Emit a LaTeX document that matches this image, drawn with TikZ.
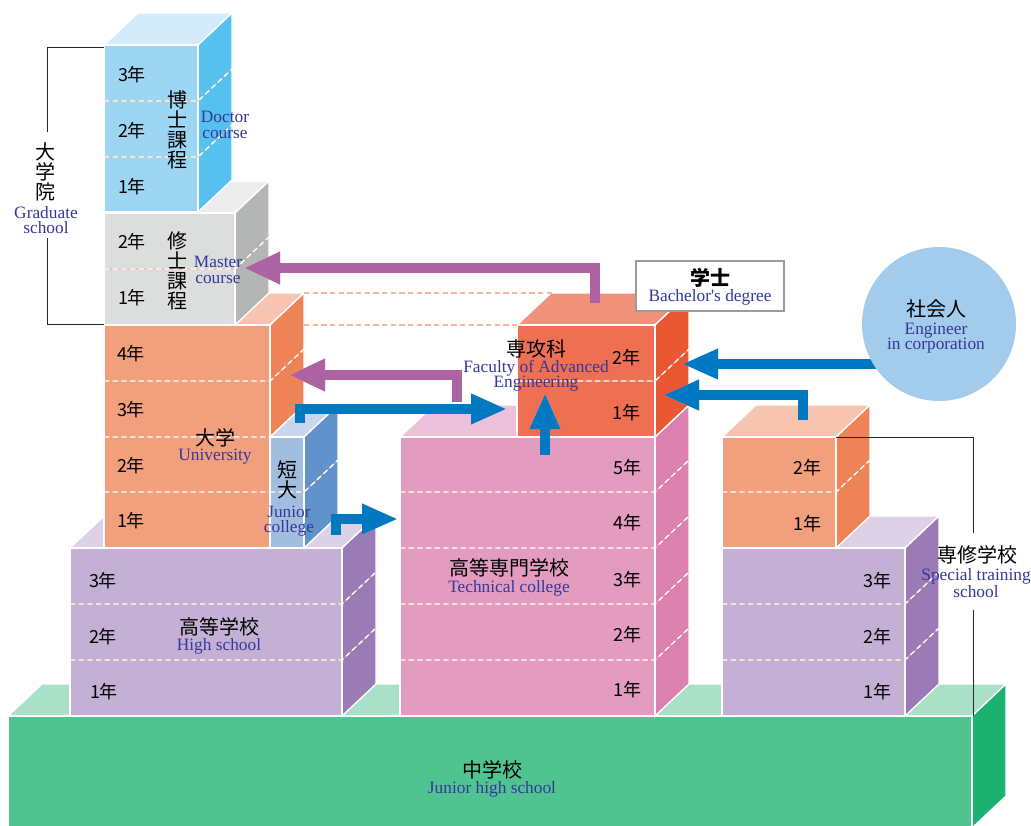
\documentclass[tikz,border=0pt]{standalone}
\usepackage{fontspec}
\newfontfamily\jp{Noto Sans CJK JP}
\newfontfamily\en{Liberation Serif}
\usetikzlibrary{arrows.meta}
\definecolor{docF}{HTML}{9DD6F3}\definecolor{docS}{HTML}{55C1EE}\definecolor{docT}{HTML}{D3ECF9}
\definecolor{masF}{HTML}{DCDDDD}\definecolor{masS}{HTML}{B4B5B5}\definecolor{masT}{HTML}{EDEDED}
\definecolor{uniF}{HTML}{F29F7D}\definecolor{uniS}{HTML}{EF8358}\definecolor{uniT}{HTML}{F7C5AF}
\definecolor{jcF}{HTML}{A1BEE1}\definecolor{jcS}{HTML}{6192CC}\definecolor{jcT}{HTML}{C9D6EC}
\definecolor{hsF}{HTML}{C4B0D4}\definecolor{hsS}{HTML}{9B7BB6}\definecolor{hsT}{HTML}{DDD1E8}
\definecolor{grF}{HTML}{4FC490}\definecolor{grS}{HTML}{1BB16F}\definecolor{grT}{HTML}{A8E1C8}
\definecolor{tcF}{HTML}{E39BC0}\definecolor{tcS}{HTML}{DC80AE}\definecolor{tcT}{HTML}{EEC1DA}
\definecolor{faF}{HTML}{EE6F51}\definecolor{faS}{HTML}{E95733}\definecolor{faT}{HTML}{F0927A}
\definecolor{circ}{HTML}{A3CBEB}
\definecolor{pArrow}{HTML}{AD62A2}\definecolor{pShadow}{HTML}{DDB3D6}
\definecolor{bArrow}{HTML}{0078C2}\definecolor{bShadow}{HTML}{82C0E6}
\definecolor{entext}{HTML}{35379A}
\definecolor{bgray}{HTML}{9B9B9B}
\definecolor{guide}{HTML}{F6B9A5}
\definecolor{dashunder}{HTML}{EFA58C}
\def\dx{34}\def\dy{32}
\newcommand\prism[7]{%
  \filldraw[facestyle, fill=#7] (#1,#2) -- ({#1+\dx},{#2-\dy}) -- ({#3+\dx},{#2-\dy}) -- (#3,#2) -- cycle;
  \filldraw[facestyle, fill=#6] (#3,#2) -- ({#3+\dx},{#2-\dy}) -- ({#3+\dx},{#4-\dy}) -- (#3,#4) -- cycle;
  \filldraw[facestyle, fill=#5] (#1,#2) rectangle (#3,#4);
}
\newcommand\yearline[3]{%
  \draw[dashunder, line width=0.45pt] (#1,#3) -- (#2,#3) -- ({#2+\dx},{#3-\dy});
  \draw[white, line width=1pt, dash pattern=on 4pt off 2.5pt] (#1,#3) -- (#2,#3) -- ({#2+\dx},{#3-\dy});
}
\begin{document}
\begin{tikzpicture}[x=0.75pt,y=-0.75pt,
  facestyle/.style={draw=white, line width=1pt, line join=miter},
  yr/.style={font=\jp\fontsize{13.5}{14}\selectfont, inner sep=0pt},
  jpl/.style={font=\jp\fontsize{15}{15}\selectfont, inner sep=0pt, align=center},
  enl/.style={font=\en\fontsize{13}{11.5}\selectfont, text=entext, inner sep=0pt, align=center},
  bracket/.style={draw=black!85, line width=0.7pt},
  guideline/.style={draw=guide, line width=0.8pt, dash pattern=on 4pt off 2.5pt},
  parrow/.style={draw=pArrow, line width=8pt, line join=miter, -{Triangle[length=27pt,width=22.5pt]}},
  pshadow/.style={draw=pShadow, line width=8pt, line join=miter, -{Triangle[length=27pt,width=22.5pt]}},
  barrow/.style={draw=bArrow, line width=7.5pt, line join=miter, -{Triangle[length=27pt,width=21pt]}},
  bshadow/.style={draw=bShadow, line width=7.5pt, line join=miter, -{Triangle[length=27pt,width=21pt]}},
]
\useasboundingbox[fill=white] (0,0) rectangle (1031,825);

% junior high school (green)
\prism{8}{716}{972}{828}{grF}{grS}{grT}
% high school
\prism{70}{548}{342}{716}{hsF}{hsS}{hsT}
\yearline{70}{342}{604}\yearline{70}{342}{660}
% technical college
\prism{400}{437}{655}{716}{tcF}{tcS}{tcT}
\yearline{400}{655}{492}\yearline{400}{655}{548}\yearline{400}{655}{604}\yearline{400}{655}{660}
% special training school (purple part)
\prism{722}{548}{905}{716}{hsF}{hsS}{hsT}
\yearline{722}{905}{604}\yearline{722}{905}{660}
% university
\prism{104}{325}{270}{548}{uniF}{uniS}{uniT}
\yearline{104}{270}{381}\yearline{104}{270}{437}\yearline{104}{270}{492}
% master
\prism{104}{213}{235}{325}{masF}{masS}{masT}
\yearline{104}{235}{269}
% doctor
\prism{104}{45}{198}{212}{docF}{docS}{docT}
\yearline{104}{198}{101}\yearline{104}{198}{157}
% junior college
\prism{270}{437}{304}{548}{jcF}{jcS}{jcT}
\yearline{270}{304}{492}
% faculty of advanced engineering
\prism{517}{325}{655}{437}{faF}{faS}{faT}
\yearline{517}{655}{381}
% special training school (orange part)
\prism{722}{437}{836}{548}{uniF}{uniS}{uniT}
\yearline{722}{836}{492}

% guide lines
\draw[guideline] (304,293) -- (553,293);
\draw[guideline] (304,325) -- (517,325);

% arrow coordinates
\coordinate (pa1s) at (595,303); \coordinate (pa1t) at (244,268);
\coordinate (pa2s) at (457,402); \coordinate (pa2t) at (289,375);
\coordinate (ba3s) at (300,423); \coordinate (ba3t) at (507,409);
\coordinate (ba4s) at (336,535); \coordinate (ba4t) at (398,519);
\coordinate (ba5s) at (545,455); \coordinate (ba5t) at (545,393);
\coordinate (ba6s) at (880,364); \coordinate (ba6t) at (682,364);
\coordinate (ba7s) at (803,420); \coordinate (ba7t) at (663,395);

% arrows
\draw[pshadow, shift={(3,-3)}] (pa1s) |- (pa1t);
\draw[parrow] (pa1s) |- (pa1t);
\draw[pshadow, shift={(3,-3)}] (pa2s) |- (pa2t);
\draw[parrow] (pa2s) |- (pa2t);
\draw[bshadow, shift={(3,-3)}] (ba3s) |- (ba3t);
\draw[barrow] (ba3s) |- (ba3t);
\draw[bshadow, shift={(3,-3)}] (ba4s) |- (ba4t);
\draw[barrow] (ba4s) |- (ba4t);
\draw[bshadow, shift={(3,-3)}] (ba5s) -- (ba5t);
\draw[barrow] (ba5s) -- (ba5t);
\draw[bshadow, shift={(3,-3)}] (ba6s) -- (ba6t);
\draw[barrow] (ba6s) -- (ba6t);
\draw[bshadow, shift={(3,-3)}] (ba7s) |- (ba7t);
\draw[barrow] (ba7s) |- (ba7t);

% engineer circle
\fill[circ] (939,324) circle (77);
% bachelor box
\filldraw[draw=bgray, fill=white, line width=1.5pt] (636,261) rectangle (784,311);

% brackets
\draw[bracket] (104,47) -- (47,47) -- (47,132);
\draw[bracket] (47,238) -- (47,324) -- (104,324);
\draw[bracket] (836,437) -- (973,437) -- (973,533);
\draw[bracket] (973,610) -- (973,716);

% texts: graduate school
\node[jpl] (gsj) at (46,172) {大\\学\\院};
\node[enl] (gse) at (46,220) {Graduate\\school};
% doctor
\node[yr] (d3) at (132,75) {3年};
\node[yr] (d2) at (132,131) {2年};
\node[yr] (d1) at (132,187) {1年};
\node[jpl] (dj) at (177,130) {博\\士\\課\\程};
\node[enl] (de) at (225,125) {Doctor\\course};
% master
\node[yr] (m2) at (132,242) {2年};
\node[yr] (m1) at (132,298) {1年};
\node[jpl] (mj) at (177,271) {修\\士\\課\\程};
\node[enl] (me) at (218,270) {Master\\course};
% university
\node[yr] (u4) at (131,354) {4年};
\node[yr] (u3) at (131,410) {3年};
\node[yr] (u2) at (131,466) {2年};
\node[yr] (u1) at (131,521) {1年};
\node[jpl] (uj) at (215,438) {大学};
\node[enl] (ue) at (215,457) {University};
% junior college
\node[jpl] (jcj) at (287,480) {短\\大};
\node[enl] (jce) at (289,521) {Junior\\college};
% high school
\node[yr] (h3) at (103,581) {3年};
\node[yr] (h2) at (103,637) {2年};
\node[yr] (h1) at (104,692) {1年};
\node[jpl] (hj) at (219,627) {高等学校};
\node[enl] (he) at (219,646) {High school};
% technical college
\node[yr] (t5) at (627,468) {5年};
\node[yr] (t4) at (627,523) {4年};
\node[yr] (t3) at (627,580) {3年};
\node[yr] (t2) at (627,635) {2年};
\node[yr] (t1) at (627,690) {1年};
\node[jpl] (tj) at (509,568) {高等専門学校};
\node[enl] (te) at (509,588) {Technical college};
% faculty of advanced engineering
\node[yr] (f2) at (626,358) {2年};
\node[yr] (f1) at (626,413) {1年};
\node[jpl] (fj) at (536,349) {専攻科};
\node[enl] (fe) at (536,376) {Faculty of Advanced\\Engineering};
% bachelor
\node[jpl, font=\jp\bfseries\fontsize{15}{15}\selectfont] (bj) at (710,278) {学士};
\node[enl] (be) at (710,297) {Bachelor's degree};
% engineer
\node[jpl] (cj) at (936,309) {社会人};
\node[enl] (ce) at (936,338) {Engineer\\in corporation};
% special training school
\node[yr] (s2) at (807,468) {2年};
\node[yr] (s1) at (807,524) {1年};
\node[yr] (p3) at (877,581) {3年};
\node[yr] (p2) at (877,637) {2年};
\node[yr] (p1) at (877,692) {1年};
\node[jpl] (sj) at (977,555) {専修学校};
\node[enl] (se) at (976,583) {Special training\\school};
% junior high school
\node[jpl] (jhj) at (492,770) {中学校};
\node[enl] (jhe) at (492,789) {Junior high school};
\end{tikzpicture}
\end{document}
